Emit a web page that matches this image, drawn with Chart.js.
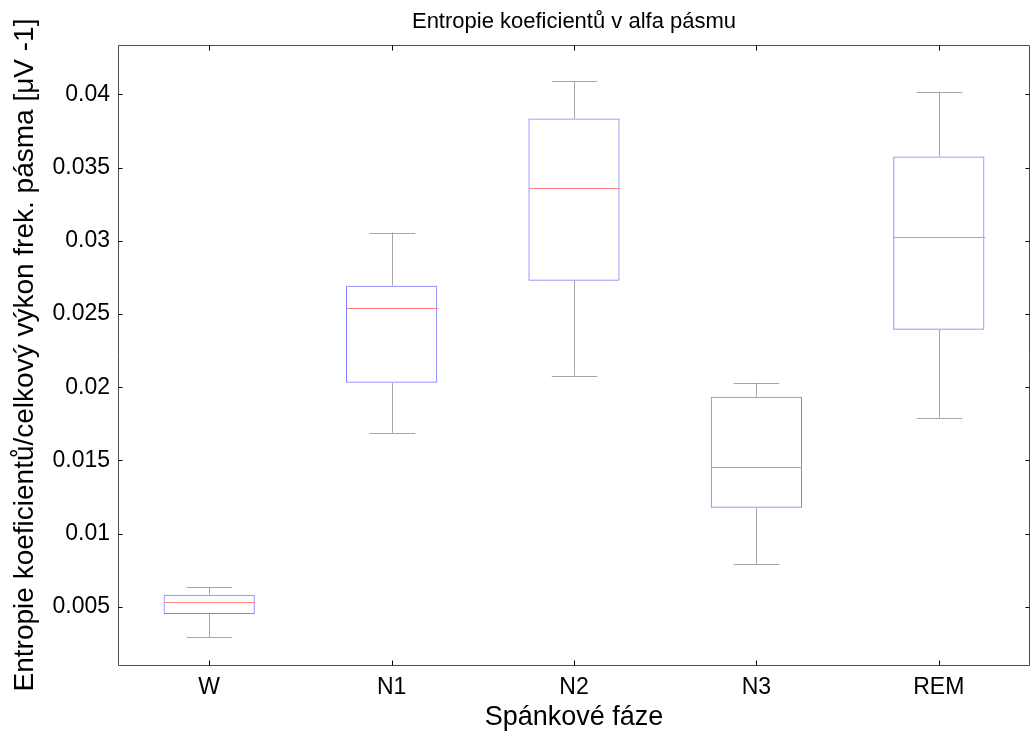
<!DOCTYPE html>
<html>
<head>
<meta charset="utf-8">
<script src="https://cdn.jsdelivr.net/npm/chart.js@4"></script>
<style>
  html, body { margin: 0; padding: 0; background: #fff; }
  #wrap { width: 1030px; height: 735px; }
</style>
</head>
<body>
<div id="wrap"><canvas id="chart" width="1030" height="735"></canvas></div>
<script>
// Data
const categories = ["W", "N1", "N2", "N3", "REM"];
const upperWhisker = [0.00637, 0.03057, 0.04089, 0.02031, 0.0402];
const upperQuartile = [0.00582, 0.02694, 0.03836, 0.01935, 0.03576];
const medians = [0.00534, 0.02544, 0.03364, 0.01457, 0.03029];
const lowerQuartile = [0.00452, 0.02031, 0.02728, 0.01177, 0.02393];
const lowerWhisker = [0.00295, 0.01689, 0.02079, 0.00794, 0.01792];
const yTicks = [0.005, 0.01, 0.015, 0.02, 0.025, 0.03, 0.035, 0.04];
const yMin = 0.00103;
const yMax = 0.04338;

const fontName = "'Liberation Sans', Arial, sans-serif";
const axisColor = "#4d4d4d";

// Whiskers, medians, frame and inside ticks
const boxPlotExtras = {
  id: "boxPlotExtras",
  afterDatasetsDraw(chart) {
    const ctx = chart.ctx;
    const x = chart.scales.x;
    const y = chart.scales.y;
    const step = x.getPixelForValue(1) - x.getPixelForValue(0);
    const boxHalf = step / 4;
    const capHalf = step / 8;
    ctx.save();
    ctx.lineWidth = 1;
    categories.forEach((c, i) => {
      const cx = Math.round(x.getPixelForValue(i)) + 0.5;
      const yTop = y.getPixelForValue(upperWhisker[i]);
      const yQ3 = y.getPixelForValue(upperQuartile[i]);
      const yQ1 = y.getPixelForValue(lowerQuartile[i]);
      const yLow = y.getPixelForValue(lowerWhisker[i]);
      const yMed = Math.round(y.getPixelForValue(medians[i])) + 0.5;
      ctx.strokeStyle = "#a6a6a6";
      ctx.beginPath();
      ctx.moveTo(cx, yTop);
      ctx.lineTo(cx, yQ3);
      ctx.moveTo(cx, yQ1);
      ctx.lineTo(cx, yLow);
      ctx.moveTo(cx - capHalf, Math.round(yTop) + 0.5);
      ctx.lineTo(cx + capHalf, Math.round(yTop) + 0.5);
      ctx.moveTo(cx - capHalf, Math.round(yLow) + 0.5);
      ctx.lineTo(cx + capHalf, Math.round(yLow) + 0.5);
      ctx.stroke();
      ctx.strokeStyle = "#ff8080";
      ctx.beginPath();
      ctx.moveTo(cx - boxHalf, yMed);
      ctx.lineTo(cx + boxHalf, yMed);
      ctx.stroke();
    });

    const a = chart.chartArea;
    const l = Math.round(a.left) + 0.5;
    const r = Math.round(a.right) - 0.5;
    const t = Math.round(a.top) + 0.5;
    const b = Math.round(a.bottom) + 0.5;
    ctx.strokeStyle = axisColor;
    ctx.beginPath();
    ctx.moveTo(l, t);
    ctx.lineTo(r, t);
    ctx.lineTo(r, b);
    ctx.lineTo(l, b);
    ctx.closePath();
    ctx.stroke();

    ctx.strokeStyle = "#000";
    ctx.beginPath();
    yTicks.forEach((v) => {
      const py = Math.round(y.getPixelForValue(v)) + 0.5;
      ctx.moveTo(l, py);
      ctx.lineTo(l + 4, py);
      ctx.moveTo(r, py);
      ctx.lineTo(r - 4, py);
    });
    categories.forEach((c, i) => {
      const px = Math.round(x.getPixelForValue(i)) + 0.5;
      ctx.moveTo(px, b);
      ctx.lineTo(px, b - 5);
      ctx.moveTo(px, t);
      ctx.lineTo(px, t + 5);
    });
    ctx.stroke();
    ctx.restore();
  },
};

new Chart(document.getElementById("chart"), {
  type: "bar",
  data: {
    labels: categories,
    datasets: [
      {
        label: "box",
        data: lowerQuartile.map((q1, i) => [q1, upperQuartile[i]]),
        backgroundColor: "rgba(0,0,0,0)",
        borderColor: "#8080ff",
        borderWidth: 1,
        borderSkipped: false,
        categoryPercentage: 1,
        barPercentage: 0.5,
      },
    ],
  },
  options: {
    responsive: false,
    animation: false,
    layout: { padding: { top: 0, right: 0, bottom: 0, left: 0 } },
    plugins: {
      legend: { display: false },
      tooltip: { enabled: false },
      title: {
        display: true,
        fullSize: false,
        text: "Entropie koeficientů v alfa pásmu",
        color: "#000",
        font: { family: fontName, size: 22, weight: "normal" },
        padding: { top: 9, bottom: 9.6 },
      },
    },
    scales: {
      x: {
        grid: { display: false, drawTicks: false },
        border: { display: false },
        ticks: {
          color: "#000",
          font: { family: fontName, size: 23 },
          padding: 9,
          maxRotation: 0,
        },
        title: {
          display: true,
          text: "Spánkové fáze",
          color: "#000",
          font: { family: fontName, size: 27 },
          padding: { top: 0, bottom: 1 },
        },
        afterFit: (s) => {
          s.height = 70;
        },
      },
      y: {
        min: yMin,
        max: yMax,
        grid: { display: false, drawTicks: false },
        border: { display: false },
        afterBuildTicks: (s) => {
          s.ticks = yTicks.map((v) => ({ value: v }));
        },
        ticks: {
          color: "#000",
          font: { family: fontName, size: 23 },
          padding: 8,
          callback: (v) => String(Number(v.toFixed(3))),
        },
        title: {
          display: true,
          text: "Entropie koeficientů/celkový výkon frek. pásma [μV -1]",
          color: "#000",
          font: { family: fontName, size: 28 },
          padding: { top: 8, bottom: 0 },
        },
        afterFit: (s) => {
          s.width = 118;
        },
      },
    },
  },
  plugins: [boxPlotExtras],
});
</script>
</body>
</html>
